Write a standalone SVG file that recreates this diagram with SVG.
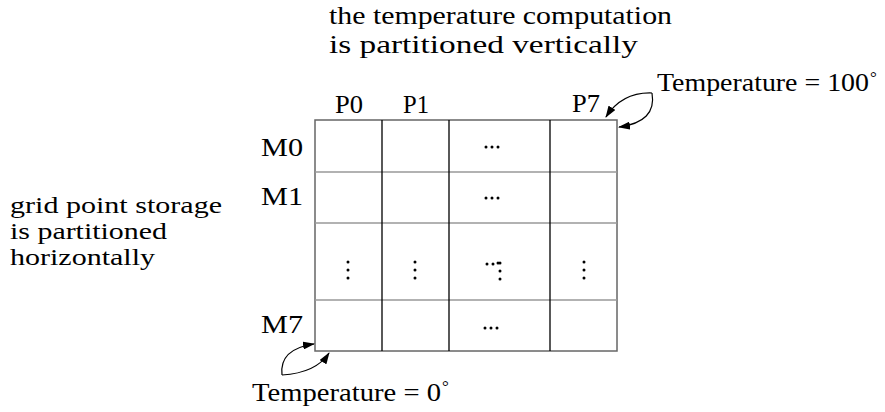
<svg xmlns="http://www.w3.org/2000/svg" width="885" height="412" viewBox="0 0 885 412">
<style>
text{font-family:'Liberation Serif','Times New Roman',serif;font-size:26px;fill:#000}
.side{font-size:23px}
.h{stroke:#999;stroke-width:1.3;fill:none}
.v{stroke:#000;stroke-width:1.3;fill:none}
.o{stroke:#666;stroke-width:1.5;fill:none}
.c{stroke:#000;stroke-width:1.2;fill:none;marker-end:url(#ah)}
.d{fill:#000}
.deg{font-size:17px}
</style>
<defs>
<marker id="ah" viewBox="0 0 12 8" refX="11" refY="4" markerWidth="12" markerHeight="8" markerUnits="userSpaceOnUse" orient="auto">
<path d="M0,0 L12,4 L0,8 z" fill="#000"/>
</marker>
<g id="hdots"><circle cx="-6" cy="0" r="1.5"/><circle cx="0" cy="0" r="1.5"/><circle cx="6" cy="0" r="1.5"/></g>
<g id="vdots"><circle cx="0" cy="-8" r="1.5"/><circle cx="0" cy="0" r="1.5"/><circle cx="0" cy="8" r="1.5"/></g>
</defs>
<g id="titles">
<text x="329" y="24" textLength="343" lengthAdjust="spacingAndGlyphs">the temperature computation</text>
<text x="329" y="53" textLength="309" lengthAdjust="spacingAndGlyphs">is partitioned vertically</text>
</g>
<g id="side-note">
<text class="side" x="10" y="213" textLength="212" lengthAdjust="spacingAndGlyphs">grid point storage</text>
<text class="side" x="10" y="239" textLength="157" lengthAdjust="spacingAndGlyphs">is partitioned</text>
<text class="side" x="10" y="265" textLength="145" lengthAdjust="spacingAndGlyphs">horizontally</text>
</g>
<g id="grid">
<rect class="o" x="315" y="120" width="302" height="231"/>
<path class="h" d="M315,172H617M315,223H617M315,300H617"/>
<path class="v" d="M382,120V351M449,120V351M550,120V351"/>
</g>
<g id="col-labels">
<text x="335" y="113" textLength="28" lengthAdjust="spacingAndGlyphs">P0</text>
<text x="403" y="113" textLength="26" lengthAdjust="spacingAndGlyphs">P1</text>
<text x="572" y="112" textLength="28" lengthAdjust="spacingAndGlyphs">P7</text>
</g>
<g id="row-labels">
<text x="261" y="156" textLength="42" lengthAdjust="spacingAndGlyphs">M0</text>
<text x="261" y="205" textLength="42" lengthAdjust="spacingAndGlyphs">M1</text>
<text x="261" y="333" textLength="42" lengthAdjust="spacingAndGlyphs">M7</text>
</g>
<g id="dots" class="d">
<use href="#hdots" x="492" y="147"/>
<use href="#hdots" x="492" y="198"/>
<use href="#hdots" x="491" y="328"/>
<use href="#vdots" x="348" y="270"/>
<use href="#vdots" x="415" y="270"/>
<use href="#vdots" x="584" y="270"/>
<circle cx="487" cy="264" r="1.5"/><circle cx="493" cy="264" r="1.5"/><circle cx="498" cy="263" r="1.5"/>
<use href="#vdots" x="500" y="271"/>
</g>
<g id="temp100">
<text x="657" y="91" textLength="212" lengthAdjust="spacingAndGlyphs">Temperature = 100</text>
<text class="deg" x="870" y="83">°</text>
</g>
<g id="temp0">
<text x="252" y="401" textLength="189" lengthAdjust="spacingAndGlyphs">Temperature = 0</text>
<text class="deg" x="442" y="392">°</text>
</g>
<g id="connectors">
<path class="c" d="M652,93 Q622,92 606,117"/>
<path class="c" d="M652,93 Q657,122 619,127"/>
<path class="c" d="M282,375 Q279,349 314,344"/>
<path class="c" d="M282,375 Q316,373 329,353"/>
</g>
</svg>
